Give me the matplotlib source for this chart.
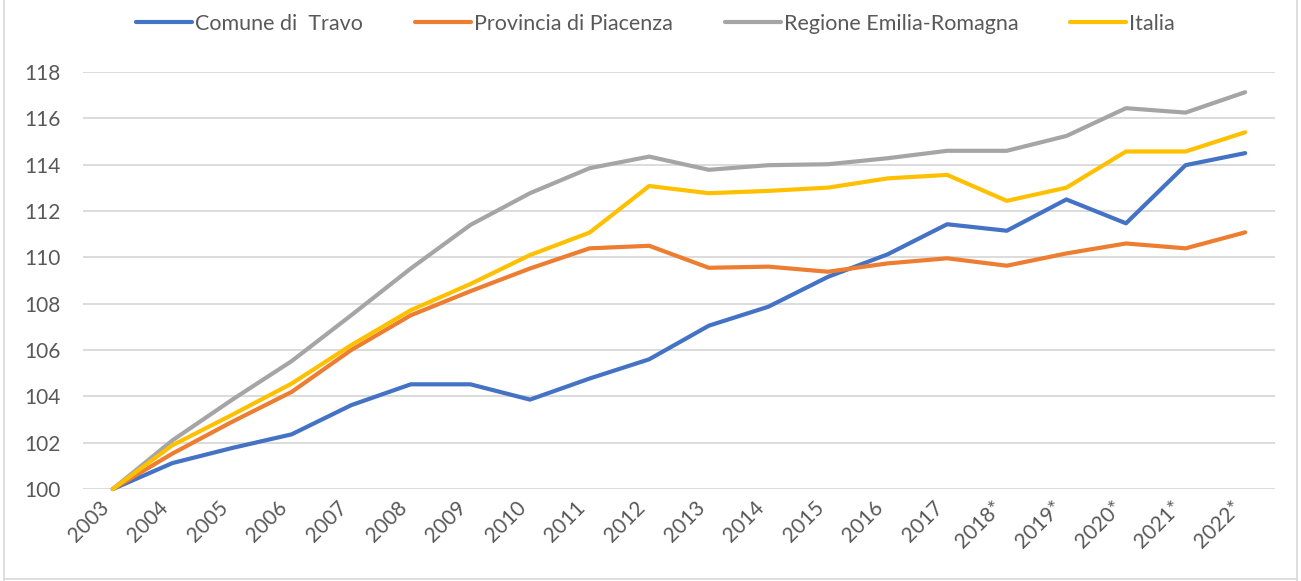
import numpy as np
from matplotlib import pyplot as plt
from matplotlib.lines import Line2D

# %% data
years = ['2003', '2004', '2005', '2006', '2007', '2008', '2009', '2010',
         '2011', '2012', '2013', '2014', '2015', '2016', '2017',
         '2018*', '2019*', '2020*', '2021*', '2022*']
travo = [100, 101.12, 101.77, 102.36, 103.62, 104.52, 104.52, 103.86,
         104.77, 105.6, 107.05, 107.87, 109.16, 110.13, 111.43,
         111.15, 112.5, 111.47, 113.98, 114.5]
piacenza = [100, 101.53, 102.9, 104.19, 106.0, 107.5, 108.54, 109.52,
            110.39, 110.5, 109.55, 109.6, 109.38, 109.74, 109.96,
            109.64, 110.17, 110.6, 110.39, 111.08]
emilia = [100, 102.1, 103.85, 105.52, 107.5, 109.52, 111.4, 112.77,
          113.85, 114.35, 113.78, 113.98, 114.02, 114.28, 114.6,
          114.6, 115.24, 116.44, 116.25, 117.13]
italia = [100, 101.89, 103.2, 104.55, 106.21, 107.72, 108.85, 110.1,
          111.07, 113.08, 112.77, 112.87, 113.01, 113.41, 113.56,
          112.44, 113.01, 114.57, 114.57, 115.4]
names = ['Comune di  Travo', 'Provincia di Piacenza',
         'Regione Emilia-Romagna', 'Italia']
colors = ['#4472C4', '#ED7D31', '#A5A5A5', '#FFC000']

# %% plot
plt.rcParams['font.family'] = ['Lato', 'DejaVu Sans']
txt = '#595959'

fig = plt.figure(figsize=(13.01, 5.81), dpi=100)
ax = fig.add_axes([0.0638, 0.1583, 0.9162, 0.7177])

x = np.arange(len(years))
for y, c, n in zip([travo, piacenza, emilia, italia], colors, names):
    ax.plot(x, y, color=c, lw=3.0, label=n, solid_capstyle='round',
            solid_joinstyle='round', clip_on=False)

ax.set_xlim(-0.5, len(years) - 0.5)
ax.set_ylim(100, 118)
ax.set_yticks(np.arange(100, 119, 2))
ax.set_xticks(x)
ax.set_xticklabels(years, rotation=45, ha='right')
ax.tick_params(length=0, labelsize=15, labelcolor=txt)
ax.tick_params(axis='y', pad=16)
ax.tick_params(axis='x', pad=6)
ax.grid(axis='y', color='#d9d9d9', lw=1.3)
ax.set_axisbelow(True)
for s in ax.spines.values():
    s.set_visible(False)

handles = [Line2D([], [], color=c, lw=3.0, solid_capstyle='round')
           for c in colors]
fig.legend(handles, names, loc='upper center', bbox_to_anchor=(0.504, 1.01),
           ncol=4, frameon=False, fontsize=15.5, labelcolor=txt,
           handlelength=2.6, handletextpad=0.15, columnspacing=2.4)

# chart border
for xs, ys in [([0.003, 0.003], [0, 1]), ([0.997, 0.997], [0, 1]),
               ([0.003, 0.997], [0.004, 0.004])]:
    fig.add_artist(Line2D(xs, ys, color='#d9d9d9', lw=1.2,
                          transform=fig.transFigure))

fig.savefig('out.png', dpi=100)
